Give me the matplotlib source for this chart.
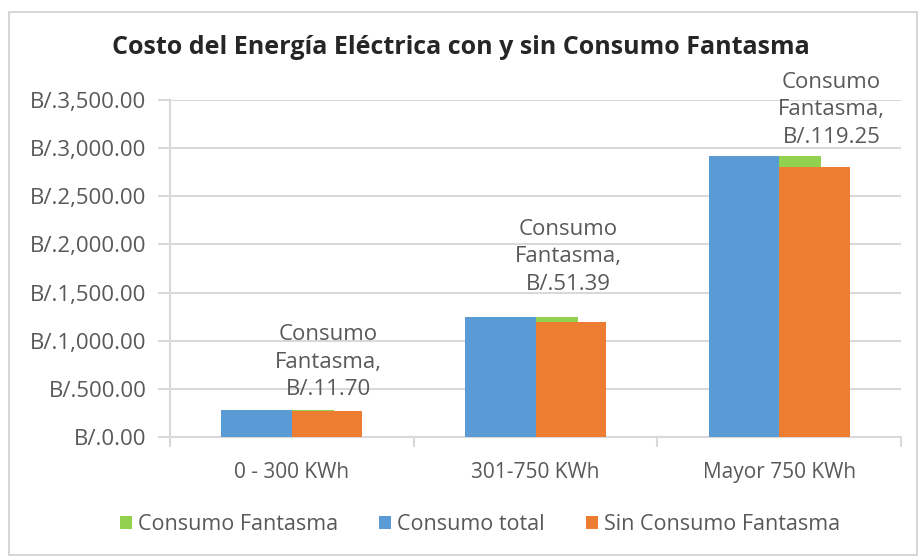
import matplotlib.pyplot as plt
import numpy as np
from matplotlib.patches import Rectangle
from matplotlib.ticker import FuncFormatter

plt.rcParams['font.family'] = ['Open Sans', 'DejaVu Sans']

categorias = ['0 - 300 KWh', '301-750 KWh', 'Mayor 750 KWh']
consumo_total = [280.0, 1250.0, 2920.0]
consumo_fantasma = [11.70, 51.39, 119.25]
sin_fantasma = [t - f for t, f in zip(consumo_total, consumo_fantasma)]

azul = '#5B9BD5'
naranja = '#ED7D31'
verde = '#92D050'
gris = '#D9D9D9'
texto = '#595959'

fig = plt.figure(figsize=(9.22, 5.59), dpi=100)
fig.patches.append(Rectangle((9 / 922, 4 / 559), 908 / 922, 543 / 559, transform=fig.transFigure,
                             fill=False, edgecolor='#D0D0D0', linewidth=1.2))
ax = fig.add_axes([170 / 922, 1 - 437 / 559, 731 / 922, 337 / 559])

x = np.arange(len(categorias))
w = 0.29
ax.bar(x - w / 2, consumo_total, width=w, color=azul, label='Consumo total', zorder=3)
ax.bar(x + w / 2, sin_fantasma, width=w, color=naranja, label='Sin Consumo Fantasma', zorder=3)
ax.bar(x, consumo_fantasma, width=0.173, bottom=sin_fantasma, align='edge', color=verde,
       label='Consumo Fantasma', zorder=2)

# posicion de las etiquetas (desplazamiento en x y separacion en pixeles)
dx = [0.15, 0.133, 0.215]
desfase = [10, 22, 8]
for i, (t, f) in enumerate(zip(consumo_total, consumo_fantasma)):
    ax.annotate('Consumo\nFantasma,\nB/.%.2f' % f, xy=(x[i] + dx[i], t),
                xytext=(0, desfase[i]), textcoords='offset pixels', ha='center', va='bottom',
                fontsize=16, color=texto, linespacing=1.4, zorder=4)

ax.set_ylim(0, 3500)
ax.set_xlim(-0.5, 2.5)
ax.set_yticks(np.arange(0, 3501, 500))
ax.yaxis.set_major_formatter(FuncFormatter(lambda v, p: 'B/.{:,.2f}'.format(v)))
ax.grid(axis='y', color=gris, linewidth=1.5, zorder=0)
ax.set_xticks(x)
ax.set_xticklabels(categorias)
ax.set_xticks([-0.5, 0.5, 1.5, 2.5], minor=True)
ax.tick_params(axis='x', which='major', length=0, pad=18, labelsize=15, colors=texto)
ax.tick_params(axis='x', which='minor', length=7, color=gris, width=1.5)
ax.tick_params(axis='y', length=9, color=gris, width=1.5, pad=8, labelsize=16, labelcolor=texto)
for s in ['top', 'right']:
    ax.spines[s].set_visible(False)
for s in ['left', 'bottom']:
    ax.spines[s].set_color(gris)
    ax.spines[s].set_linewidth(1.5)

fig.text(0.5, 1 - 48 / 559, 'Costo del Energía Eléctrica con y sin Consumo Fantasma', ha='center', va='center',
         fontsize=18, fontweight='bold', color='#262626')

h, l = ax.get_legend_handles_labels()
orden = [2, 0, 1]
fig.legend([h[i] for i in orden], [l[i] for i in orden], loc='center', bbox_to_anchor=(480 / 922, 1 - 525 / 559),
           ncol=3, frameon=False, fontsize=15.5, handlelength=0.55, handleheight=0.55, handletextpad=0.3,
           columnspacing=1.9, labelcolor=texto)

fig.savefig('out.png', dpi=100)
